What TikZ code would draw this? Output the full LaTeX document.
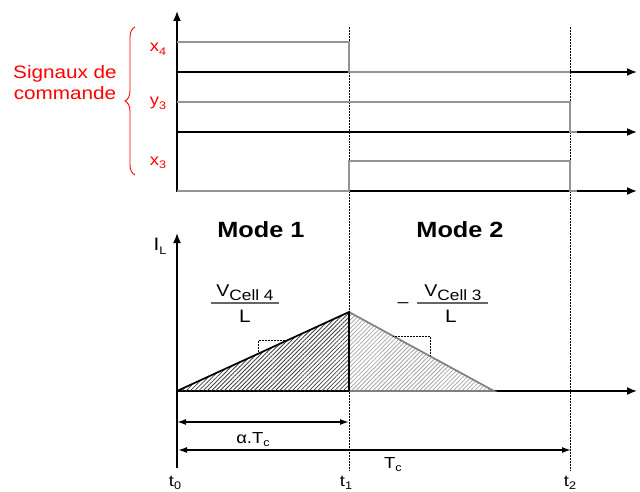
\documentclass[tikz,border=0pt]{standalone}
\usepackage{fontspec}
\setmainfont{Liberation Sans}[FakeStretch=1.15]
\usetikzlibrary{arrows.meta,decorations.pathreplacing,patterns.meta}
\tikzset{
  chrono-axis/.style={draw=black, line width=1.7pt, -{Latex[length=10pt,width=8pt]}},
  chrono-signal/.style={draw=black!42, line width=1.7pt},
  chrono-guide/.style={draw=black, line width=0.5pt, densely dotted},
  chrono-dim/.style={draw=black, line width=1.5pt,
    {Latex[length=9pt,width=6pt]}-{Latex[length=9pt,width=6pt]}},
  chrono-bar/.style={draw=black!60, line width=1.2pt},
  chrono-label/.style={inner sep=0pt, anchor=base, font=\fontsize{16}{16}\selectfont},
  chrono-red/.style={chrono-label, text=red},
  chrono-mode/.style={inner sep=0pt, anchor=base, font=\bfseries\fontsize{22}{22}\selectfont}
}
\newcommand{\lowsub}[2]{#1\raisebox{-0.45ex}{\fontsize{11}{11}\selectfont #2}}

\begin{document}
\begin{tikzpicture}[x=1pt, y=-1pt]
  \useasboundingbox (0,0) rectangle (640,492);
  % instants t0, t1, t2
  \draw[chrono-guide] (349,27) -- (349,470);
  \draw[chrono-guide] (570,27) -- (570,470);

  % upper chronogram: control signals
  \draw[chrono-axis] (177,192) -- (177,11);
  \foreach \y in {72,132,191}
    \draw[chrono-axis] (177,\y) -- (637,\y);
  \draw[chrono-signal] (177,42) -- (349,42) -- (349,72) -- (570,72);
  \draw[chrono-signal] (177,102) -- (570,102) -- (570,132) -- (577,132);
  \draw[chrono-signal] (177,191) -- (349,191) -- (349,161) -- (570,161) -- (570,191) -- (577,191);

  \node[chrono-red] (lx4) at (158,52) {\lowsub{x}{4}};
  \node[chrono-red] (ly3) at (158,106) {\lowsub{y}{3}};
  \node[chrono-red] (lx3) at (158,165) {\lowsub{x}{3}};
  \draw[red, line width=0.9pt, decorate, decoration={brace, amplitude=10pt}] (135,175) -- (135,27);
  \node[chrono-red, align=center, font=\fontsize{18}{21}\selectfont] (sig) at (65,100) {Signaux de\\commande};

  % lower chronogram: inductor current
  \node[chrono-mode] (mode1) at (261,237) {Mode 1};
  \node[chrono-mode] (mode2) at (460,237) {Mode 2};
  \coordinate (A) at (177,391);
  \coordinate (P) at (349,312);
  \coordinate (B) at (349,391);
  \coordinate (E) at (494,391);
  \draw[chrono-axis] (177,468) -- (177,233);
  \draw[chrono-axis] (A) -- (637,391);
  \fill[pattern={Lines[angle=45,distance=3pt,line width=0.8pt]}, pattern color=black!75] (A) -- (P) -- (B) -- cycle;
  \fill[pattern={Lines[angle=45,distance=3pt,line width=0.8pt]}, pattern color=black!35] (B) -- (P) -- (E) -- cycle;
  \draw[black!50, line width=1.7pt] (P) -- (E) -- (B);
  \draw[black, line width=1.7pt] (A) -- (P) -- (B);
  \draw[chrono-guide] (258,353) -- (258,340) -- (288,340);
  \draw[chrono-guide] (393,336) -- (430,336) -- (430,356);
  \node[chrono-label, font=\fontsize{18}{18}\selectfont] (il) at (160,250) {\lowsub{I}{L}};

  \node[chrono-label, font=\fontsize{17}{17}\selectfont] (num4) at (245,296) {V\raisebox{-0.5ex}{\fontsize{15}{15}\selectfont Cell 4}};
  \draw[chrono-bar] (211,303) -- (279,303);
  \node[chrono-label, font=\fontsize{18}{18}\selectfont] (den4) at (245,322) {L};
  \node[chrono-label, font=\fontsize{17}{17}\selectfont] (neg) at (403,307) {–};
  \node[chrono-label, font=\fontsize{17}{17}\selectfont] (num3) at (453,296) {V\raisebox{-0.5ex}{\fontsize{15}{15}\selectfont Cell 3}};
  \draw[chrono-bar] (417,303) -- (488,303);
  \node[chrono-label, font=\fontsize{18}{18}\selectfont] (den3) at (451,322) {L};

  % durations
  \draw[chrono-dim] (177,422) -- (349,422);
  \draw[chrono-dim] (178,450) -- (571,450);
  \node[chrono-label] (ta) at (253,443) {α.\lowsub{T}{c}};
  \node[chrono-label] (tc) at (393,468) {\lowsub{T}{c}};
  \node[chrono-label] (t0) at (175,486) {\lowsub{t}{0}};
  \node[chrono-label] (t1) at (346,486) {\lowsub{t}{1}};
  \node[chrono-label] (t2) at (570,486) {\lowsub{t}{2}};
\end{tikzpicture}
\end{document}
